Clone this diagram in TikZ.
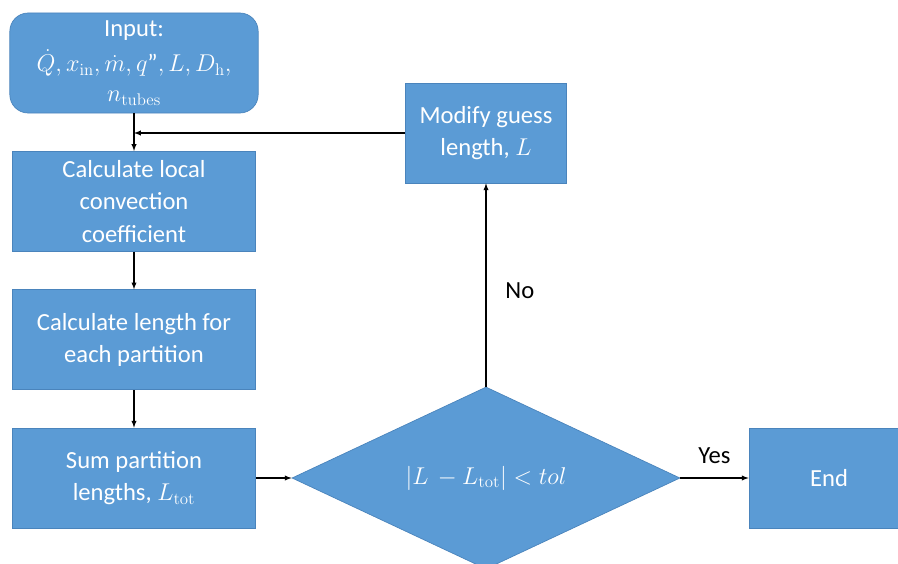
\documentclass[tikz,border=0pt]{standalone}
\usepackage[no-math]{fontspec}
\setmainfont{Carlito}
\usetikzlibrary{shapes.geometric}

\definecolor{boxblue}{HTML}{5B9BD5}
\definecolor{boxline}{HTML}{4A84BC}

\tikzstyle{fc-block}=[draw=boxline,fill=boxblue,text=white,line width=0.6pt,
  minimum width=7.3cm,minimum height=3cm,align=center,
  font=\fontsize{21}{27.5}\selectfont]
\tikzstyle{fc-start}=[fc-block,rounded corners=0.55cm,minimum width=7.45cm]
\tikzstyle{fc-decide}=[draw=boxline,fill=boxblue,text=white,line width=0.6pt,
  diamond,aspect=2.13,inner sep=0pt,minimum width=11.64cm,minimum height=5.46cm,
  font=\fontsize{21}{27.5}\selectfont]
\tikzstyle{fc-label}=[font=\fontsize{21}{27.5}\selectfont]

\begin{document}
\begin{tikzpicture}[node distance=4.15cm,>=latex,line width=1pt]
    \useasboundingbox (-4.02,1.89) rectangle (22.92,-15);
    \begin{scope}
    \clip (-4.02,1.89) rectangle (22.92,-15);
    \node[fc-start]  (input)                   {Input:\\[3pt] $\dot{Q}, x_{\mathrm{in}}, \dot{m}, q\mbox{"}, L, D_{\mathrm{h}},$\\[-2pt] $n_{\mathrm{tubes}}$};
    \node[fc-block]  (conv)  [below of=input]  {Calculate local\\ convection\\ coefficient};
    \node[fc-block]  (part)  [below of=conv]   {Calculate length for\\ each partition};
    \node[fc-block]  (sum)   [below of=part]   {Sum partition\\ lengths, $L_{\mathrm{tot}}$};
    \node[fc-decide] (check) [right of=sum, node distance=10.56cm] {$|L\, - L_{\mathrm{tot}}| < tol$};
    \node[fc-block,minimum width=4.85cm] (guess) [above of=check, node distance=10.35cm] {Modify guess\\ length, $L$};
    \node[fc-block,minimum width=4.8cm] (end) [right of=check, node distance=10.29cm] {End};
    \end{scope}
    \coordinate (join) at (input.south |- guess.west);
    \draw[->] (input) to (conv);
    \draw[->] (conv)  to (part);
    \draw[->] (part)  to (sum);
    \draw[->] (sum)   to (check);
    \draw[->] (guess.west) to (join);
    \draw[->] (check) to node[fc-label,right,pos=0.47,xshift=0.45cm] {No} (guess);
    \draw[->] (check) to node[fc-label,above,yshift=0.3cm] {Yes} (end);
  \end{tikzpicture}
\end{document}
